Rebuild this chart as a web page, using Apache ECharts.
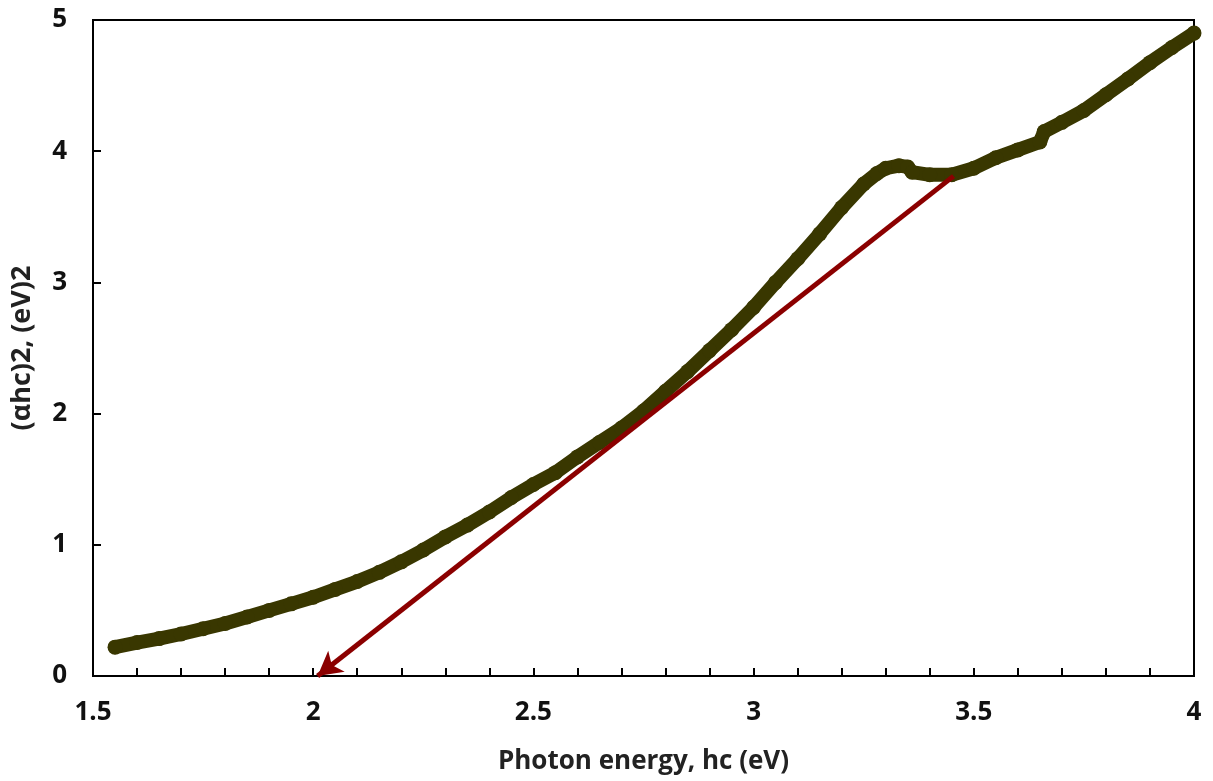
<!DOCTYPE html>
<html>
<head>
<meta charset="utf-8">
<script src="https://cdn.jsdelivr.net/npm/echarts@6/dist/echarts.min.js"></script>
<style>html,body{margin:0;padding:0;background:#fff}#c{width:1213px;height:781px}</style>
</head>
<body>
<div id="c"></div>
<script>
// Photon energy (eV)
const energy = [1.55,1.60,1.65,1.70,1.75,1.80,1.85,1.90,1.95,2.00,2.05,2.10,2.15,2.20,2.25,2.30,2.35,2.40,2.45,2.50,2.55,2.60,2.65,2.70,2.75,2.80,2.85,2.90,2.95,3.00,3.05,3.10,3.15,3.20,3.25,3.28,3.30,3.33,3.35,3.36,3.40,3.45,3.50,3.55,3.60,3.65,3.66,3.70,3.75,3.80,3.85,3.90,3.95,4.00];
// (alpha h c)^2 values
const alphaSq = [0.22,0.255,0.285,0.32,0.36,0.40,0.45,0.50,0.55,0.60,0.66,0.72,0.79,0.87,0.96,1.06,1.15,1.25,1.36,1.46,1.55,1.67,1.78,1.89,2.02,2.17,2.32,2.48,2.64,2.81,3.00,3.18,3.37,3.57,3.75,3.83,3.87,3.89,3.88,3.84,3.82,3.82,3.87,3.95,4.01,4.07,4.15,4.22,4.31,4.43,4.55,4.675,4.79,4.90];
// Tangent (extrapolation) arrow endpoints
const arrowX = [3.454, 2.01];
const arrowY = [3.81, 0];

const xTitle = 'Photon energy, hc (eV)';
const yTitle = '(αhc)2, (eV)2';

const pts = energy.map((e, i) => [e, alphaSq[i]]);
const fontFam = '"Open Sans", "Liberation Sans", sans-serif';
const curveColor = '#393700';

const chart = echarts.init(document.getElementById('c'), null, {renderer: 'canvas'});
chart.setOption({
  animation: false,
  backgroundColor: '#fff',
  grid: {left: 93, top: 20, right: 19, bottom: 105, show: true, borderColor: '#000', borderWidth: 2, backgroundColor: 'transparent'},
  xAxis: {
    type: 'value', min: 1.5, max: 4, interval: 0.5,
    name: xTitle, nameLocation: 'middle', nameGap: 73,
    nameTextStyle: {fontFamily: fontFam, fontSize: 26, fontWeight: 'bold', color: '#222'},
    axisLine: {show: true, lineStyle: {color: '#000', width: 2}},
    axisTick: {show: true, inside: true, length: 8, lineStyle: {color: '#000', width: 2}},
    minorTick: {show: true, splitNumber: 5, length: 8, lineStyle: {color: '#000', width: 2}},
    axisLabel: {fontFamily: fontFam, fontSize: 26, fontWeight: 'bold', color: '#111', margin: 24},
    splitLine: {show: false}
  },
  yAxis: {
    type: 'value', min: 0, max: 5, interval: 1,
    name: yTitle, nameLocation: 'middle', nameGap: 57, nameRotate: 90,
    nameTextStyle: {fontFamily: fontFam, fontSize: 27, fontWeight: 'bold', color: '#222'},
    axisLine: {show: true, lineStyle: {color: '#000', width: 2}},
    axisTick: {show: true, inside: true, length: 8, lineStyle: {color: '#000', width: 2}},
    axisLabel: {fontFamily: fontFam, fontSize: 26, fontWeight: 'bold', color: '#111', margin: 26},
    splitLine: {show: false}
  },
  series: [
    {
      type: 'line', data: pts, smooth: false,
      symbol: 'circle', symbolSize: 15, showSymbol: true,
      itemStyle: {color: curveColor},
      lineStyle: {color: curveColor, width: 14, cap: 'round', join: 'round'},
      z: 3
    },
    {
      type: 'line', data: [], z: 4,
      markLine: {
        silent: true, animation: false,
        symbol: ['none', 'arrow'], symbolSize: [20, 24],
        label: {show: false},
        lineStyle: {color: '#8b0000', width: 5, type: 'solid'},
        emphasis: {disabled: true},
        data: [[{coord: [arrowX[0], arrowY[0]]}, {coord: [arrowX[1], arrowY[1]]}]]
      }
    }
  ]
});
</script>
</body>
</html>
